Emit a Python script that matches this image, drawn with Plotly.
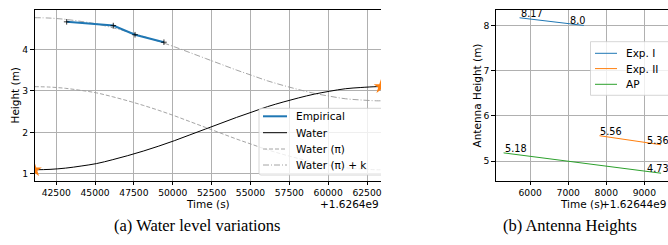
import plotly.graph_objects as go

W, H = 668, 245

# ---------------- Panel (a): water level variations ----------------
# time in seconds after offset 1.6264e9
water_t = [41100, 42100, 43100, 44100, 45100, 46100, 47100, 48100, 49100, 50100,
           51100, 52100, 53100, 54100, 55100, 56100, 57100, 58100, 59100, 60100,
           61100, 62100, 63100, 63400]
water_h = [1.10, 1.11, 1.14, 1.19, 1.25, 1.34, 1.44, 1.55, 1.67, 1.80,
           1.94, 2.08, 2.22, 2.36, 2.49, 2.62, 2.73, 2.83, 2.92, 2.99,
           3.05, 3.08, 3.10, 3.10]
water_pi_h = [3.10, 3.09, 3.06, 3.01, 2.95, 2.86, 2.76, 2.65, 2.53, 2.40,
              2.26, 2.12, 1.98, 1.84, 1.71, 1.58, 1.47, 1.37, 1.28, 1.21,
              1.15, 1.12, 1.10, 1.10]
water_pik_h = [4.76, 4.75, 4.72, 4.67, 4.61, 4.52, 4.42, 4.31, 4.19, 4.06,
               3.92, 3.78, 3.64, 3.50, 3.37, 3.24, 3.13, 3.03, 2.94, 2.87,
               2.81, 2.78, 2.76, 2.76]
emp_t = [43170, 46170, 47570, 49430]
emp_h = [4.66, 4.57, 4.35, 4.17]
ends_t = [41100, 63400]
ends_h = [1.10, 3.10]
a_xticks = [42500, 45000, 47500, 50000, 52500, 55000, 57500, 60000, 62500]
a_yticks = [1, 2, 3, 4]
a_legend = ["Empirical", "Water", "Water (π)", "Water (π) + k"]

# ---------------- Panel (b): antenna heights ----------------
# time in seconds after offset 1.62644e9
exp1_t = [5720, 7410]
exp1_h = [8.17, 8.0]
exp2_t = [7820, 9440]
exp2_h = [5.56, 5.36]
ap_t = [5300, 9440]
ap_h = [5.18, 4.73]
b_xticks = [6000, 7000, 8000, 9000]
b_yticks = [5, 6, 7, 8]
b_legend = ["Exp. I", "Exp. II", "AP"]

BLUE, ORANGE, GREEN = "#1f77b4", "#ff7f0e", "#2ca02c"
GREY = "#9a9a9a"
FONT = "DejaVu Sans"
TICK = 9.2
LAB = 10.5


def px(x):
    return x / W


def py(y):
    return 1 - y / H


fig = go.Figure()

# panel (a) traces
fig.add_trace(go.Scatter(x=water_t, y=water_pi_h, mode="lines",
                         line=dict(color=GREY, width=0.9, dash="4px,2px", shape="spline"),
                         xaxis="x", yaxis="y", showlegend=False))
fig.add_trace(go.Scatter(x=water_t, y=water_pik_h, mode="lines",
                         line=dict(color=GREY, width=0.9, dash="6px,2px,1px,2px", shape="spline"),
                         xaxis="x", yaxis="y", showlegend=False))
fig.add_trace(go.Scatter(x=water_t, y=water_h, mode="lines",
                         line=dict(color="black", width=1, shape="spline"),
                         xaxis="x", yaxis="y", showlegend=False))
fig.add_trace(go.Scatter(x=emp_t, y=emp_h, mode="lines",
                         line=dict(color=BLUE, width=2),
                         xaxis="x", yaxis="y", showlegend=False))
fig.add_trace(go.Scatter(x=emp_t, y=emp_h, mode="markers",
                         marker=dict(symbol="cross-thin", size=4, color="black",
                                     line=dict(color="black", width=0.8)),
                         xaxis="x", yaxis="y", showlegend=False))
fig.add_trace(go.Scatter(x=ends_t, y=ends_h, mode="markers", cliponaxis=True,
                         marker=dict(symbol="star", size=11, color=ORANGE,
                                     line=dict(width=0)),
                         xaxis="x", yaxis="y", showlegend=False))

# panel (b) traces
for t, h, c in [(exp1_t, exp1_h, BLUE), (exp2_t, exp2_h, ORANGE), (ap_t, ap_h, GREEN)]:
    fig.add_trace(go.Scatter(x=t, y=h, mode="lines", line=dict(color=c, width=1),
                             xaxis="x2", yaxis="y2", showlegend=False))

# value labels on panel (b)
annotations = []
for t, h in [(exp1_t, exp1_h), (exp2_t, exp2_h), (ap_t, ap_h)]:
    annotations.append(dict(x=t[0], y=h[0], xref="x2", yref="y2", text=str(h[0]),
                            showarrow=False, xanchor="left", yanchor="bottom",
                            xshift=-1, yshift=-3, font=dict(family=FONT, size=9.7, color="black")))
    annotations.append(dict(x=t[-1], y=h[-1], xref="x2", yref="y2", text=str(h[-1]),
                            showarrow=False, xanchor="left", yanchor="bottom",
                            xshift=-16, yshift=-3, font=dict(family=FONT, size=9.7, color="black")))

axis_common = dict(showgrid=True, gridcolor="#b0b0b0", gridwidth=0.8,
                   showline=True, linecolor="black", linewidth=0.9,
                   ticks="outside", ticklen=3.5, tickwidth=0.8, tickcolor="black",
                   zeroline=False, tickfont=dict(family=FONT, size=TICK, color="black"))

fig.update_layout(
    width=W, height=H, margin=dict(l=0, r=0, t=0, b=0),
    paper_bgcolor="white", plot_bgcolor="white", showlegend=False,
    xaxis=dict(domain=[px(34.5), px(381)], range=[41100, 63400], tickvals=a_xticks,
               tickformat="d", mirror=True, anchor="y", **axis_common),
    yaxis=dict(domain=[py(181), py(10)], range=[0.83, 4.945], tickvals=a_yticks,
               anchor="x", **axis_common),
    xaxis2=dict(domain=[px(495.7), 1.0], range=[5093, 9622], tickvals=b_xticks,
                tickformat="d", mirror=True, anchor="y2", **axis_common),
    yaxis2=dict(domain=[py(181), py(10)], range=[4.558, 8.342], tickvals=b_yticks,
                anchor="x2", **axis_common),
)

shapes = []
# legend (a)
lx0, lx1, ly0, ly1 = 259, 381, 108.3, 175
shapes.append(dict(type="rect", xref="paper", yref="paper", x0=px(lx0), x1=px(lx1),
                   y0=py(ly1), y1=py(ly0), fillcolor="rgba(255,255,255,0.8)",
                   line=dict(width=0), layer="above"))
shapes.append(dict(type="path", xref="paper", yref="paper",
                   path=f"M {px(lx1)},{py(ly0)} L {px(lx0+2)},{py(ly0)} Q {px(lx0)},{py(ly0)} {px(lx0)},{py(ly0+2)} "
                        f"L {px(lx0)},{py(ly1-2)} Q {px(lx0)},{py(ly1)} {px(lx0+2)},{py(ly1)} L {px(lx1)},{py(ly1)}",
                   line=dict(color="#cccccc", width=0.8), layer="above"))
a_rows = [116.3, 132.7, 149, 165]
a_styles = [dict(color=BLUE, width=2), dict(color="black", width=1),
            dict(color=GREY, width=0.9, dash="4px,2px"),
            dict(color=GREY, width=0.9, dash="6px,2px,1px,2px")]
for label, yrow, st in zip(a_legend, a_rows, a_styles):
    shapes.append(dict(type="line", xref="paper", yref="paper", x0=px(263), x1=px(287),
                       y0=py(yrow), y1=py(yrow), line=st, layer="above"))
    annotations.append(dict(x=px(294), y=py(yrow), xref="paper", yref="paper", text=label,
                            showarrow=False, xanchor="left", yanchor="middle",
                            font=dict(family=FONT, size=LAB, color="black")))

# legend (b)
bx0, by0, by1 = 590.5, 41.7, 95.3
shapes.append(dict(type="rect", xref="paper", yref="paper", x0=px(bx0), x1=px(680),
                   y0=py(by1), y1=py(by0), fillcolor="rgba(255,255,255,0.8)",
                   line=dict(color="#cccccc", width=0.8), layer="above"))
b_rows = [53.3, 68.6, 84.3]
for label, yrow, c in zip(b_legend, b_rows, [BLUE, ORANGE, GREEN]):
    shapes.append(dict(type="line", xref="paper", yref="paper", x0=px(595), x1=px(617),
                       y0=py(yrow), y1=py(yrow), line=dict(color=c, width=1), layer="above"))
    annotations.append(dict(x=px(624), y=py(yrow), xref="paper", yref="paper", text=label,
                            showarrow=False, xanchor="left", yanchor="middle",
                            font=dict(family=FONT, size=LAB, color="black")))

# axis titles, offsets, captions
def txt(x, y, s, size=LAB, xanchor="center", angle=0, family=FONT):
    annotations.append(dict(x=px(x), y=py(y), xref="paper", yref="paper", text=s,
                            showarrow=False, xanchor=xanchor, yanchor="middle", textangle=angle,
                            font=dict(family=family, size=size, color="black")))

txt(14, 95.5, "Height (m)", angle=-90)
txt(207.5, 204, "Time (s)")
txt(381, 204, "+1.6264e9", xanchor="right")
txt(476, 95.5, "Antenna Height (m)", angle=-90)
txt(582, 204, "Time (s)")
txt(668, 204, "+1.62644e9", xanchor="right")
txt(197, 225, "(a) Water level variations", size=16.5, family="Liberation Serif")
txt(570, 225, "(b) Antenna Heights", size=16.5, family="Liberation Serif")

fig.update_layout(shapes=shapes, annotations=annotations)
fig.write_html("out.html", config={"displayModeBar": False},
               post_script="document.body.style.margin='0';document.body.style.overflow='hidden';")
